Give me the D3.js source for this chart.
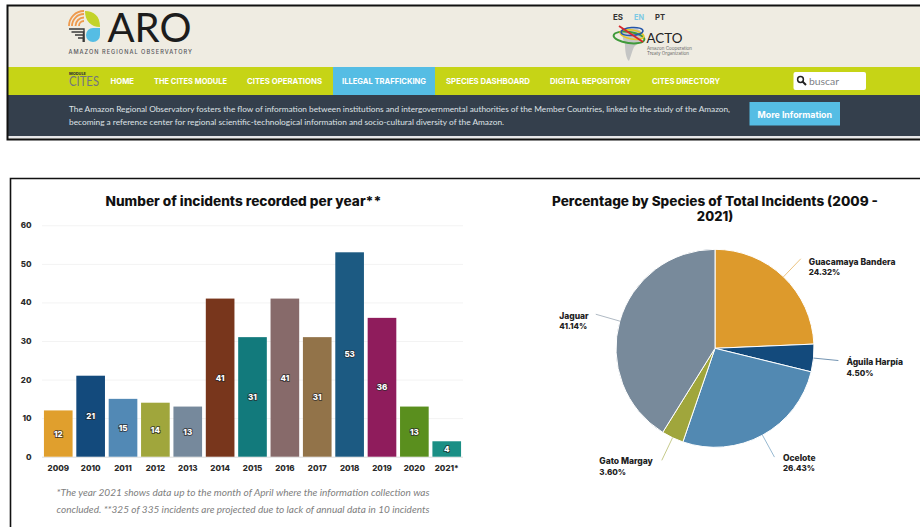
<!DOCTYPE html>
<html>
<head>
<meta charset="utf-8">
<title>Amazon Regional Observatory: illegal trafficking incidents</title>
<script src="https://cdn.jsdelivr.net/npm/d3@7/dist/d3.min.js"></script>
<style>
  html, body { margin: 0; padding: 0; background: #fff; }
  svg { display: block; }
  text { font-family: Inter, "Open Sans", sans-serif; }
</style>
</head>
<body>
<svg id="page" width="920" height="527"></svg>
<script>
// Incidents per year
const years = ["2009","2010","2011","2012","2013","2014","2015","2016","2017","2018","2019","2020","2021*"];
const incidents = [12,21,15,14,13,41,31,41,31,53,36,13,4];
const barColors = ["#e09f2d","#134a7c","#5289b5","#a0a63c","#76899c","#78361c","#127a7c","#876a6a","#927349","#1c5a82","#8f1c5c","#5a8f1e","#1b8f85"];
const yTicks = [0,10,20,30,40,50,60];

// Share of total incidents by species
const species = ["Guacamaya Bandera","Águila Harpía","Ocelote","Gato Margay","Jaguar"];
const shares = [24.32,4.50,26.43,3.60,41.14];
const pieColors = ["#dd9a2c","#134a7c","#5289b2","#a0a63c","#788a9b"];

// Site header content
const navItems = ["HOME","THE CITES MODULE","CITES OPERATIONS","ILLEGAL TRAFFICKING","SPECIES DASHBOARD","DIGITAL REPOSITORY","CITES DIRECTORY"];
const navSpans = [[110.5,134],[154,227],[247,322],[342,426],[446,530],[550,631],[652,720]];
const langs = ["ES","EN","PT"];
const introLines = [
  "The Amazon Regional Observatory fosters the flow of information between institutions and intergovernmental authorities of the Member Countries, linked to the study of the Amazon,",
  "becoming a reference center for regional scientific-technological information and socio-cultural diversity of the Amazon."
];
const notes = [
  "*The year 2021 shows data up to the month of April where the information collection was",
  "concluded. **325 of 335 incidents are projected due to lack of annual data in 10 incidents"
];

const svg = d3.select("#page");

// Text helper: fits a string into a known horizontal span
function label(g, str, x, y, o = {}) {
  const t = g.append("text").attr("x", x).attr("y", y).text(str)
    .attr("font-size", o.size || 10)
    .attr("font-weight", o.weight || 400)
    .attr("fill", o.fill || "#000")
    .attr("text-anchor", o.anchor || "start")
    .attr("dominant-baseline", "central");
  if (o.family) t.style("font-family", o.family);
  if (o.italic) t.attr("font-style", "italic");
  if (o.width) t.attr("textLength", o.width).attr("lengthAdjust", o.adjust || "spacingAndGlyphs");
  return t;
}

/* ---------- Header panel ---------- */
const head = svg.append("g");
head.append("rect").attr("x", 8).attr("y", 6).attr("width", 912).attr("height", 133).attr("fill", "#efece2");
head.append("rect").attr("x", 8).attr("y", 67).attr("width", 912).attr("height", 28).attr("fill", "#c6d416");
head.append("rect").attr("x", 8).attr("y", 95).attr("width", 912).attr("height", 41).attr("fill", "#343f4c");
head.append("rect").attr("x", 8).attr("y", 136).attr("width", 912).attr("height", 2.5).attr("fill", "#e8e8ea");
head.append("path").attr("d", "M920,5.5H7.5V139.5H920").attr("fill", "none").attr("stroke", "#111").attr("stroke-width", 2);

// ARO emblem
const emblem = head.append("g");
[5, 8.5, 12, 15].forEach(r => emblem.append("path")
  .attr("d", d3.arc()({innerRadius: r - 0.9, outerRadius: r + 0.9, startAngle: -Math.PI / 2, endAngle: 0}))
  .attr("transform", "translate(84,26)").attr("fill", "#ee9a4d"));
emblem.append("path").attr("d", "M85,11 C94,11 100,16 100,27 C91,27 85,21 85,11Z").attr("fill", "#c3d32a");
emblem.append("path").attr("d", "M100,28 V35 A7,7 0 1 1 86,35 A7,7 0 0 1 93,28Z").attr("fill", "#55bde4");
[[69,29,15],[71.5,32,12],[75,35,8.5],[78,38,5.5]].forEach(d => emblem.append("path")
  .attr("d", `M${d[0]},${d[1]}H${d[0] + d[2]}V${42}`)
  .attr("fill", "none").attr("stroke", "#3a3a3a").attr("stroke-width", 1.4));
label(head, "ARO", 107.5, 26.5, {size: 41, fill: "#1c1c1c", width: 84, family: "Lato, sans-serif"});
label(head, "AMAZON REGIONAL OBSERVATORY", 68.5, 51.5, {size: 5.6, weight: 500, fill: "#55555a", width: 123.5, adjust: "spacing"});

// Language switch and ACTO emblem
langs.forEach((l, i) => label(head, l, 613 + i * 21, 17.5, {size: 7.5, weight: 700, fill: l === "EN" ? "#7cc9e4" : "#333", width: 10}));
head.append("path").attr("d", "M626,30 C634,27 641,29 642,34 C643,40 637,44 634,47 C632,51 631,56 629,61 C626,59 625,50 625,44 C622,39 622,33 626,30Z").attr("fill", "#c4c5c4");
head.append("ellipse").attr("cx", 629).attr("cy", 37.5).attr("rx", 15.5).attr("ry", 5.5).attr("transform", "rotate(8 629 37.5)").attr("fill", "none").attr("stroke", "#3f9a3a").attr("stroke-width", 2);
head.append("ellipse").attr("cx", 632).attr("cy", 34.5).attr("rx", 12).attr("ry", 4.5).attr("transform", "rotate(10 632 34.5)").attr("fill", "none").attr("stroke", "#e6c72a").attr("stroke-width", 1.6);
head.append("ellipse").attr("cx", 632).attr("cy", 31.5).attr("rx", 11).attr("ry", 4).attr("transform", "rotate(-4 632 31.5)").attr("fill", "none").attr("stroke", "#2456a8").attr("stroke-width", 1.5);
head.append("path").attr("d", "M619,26 L643,42").attr("stroke", "#d8262a").attr("stroke-width", 1.8);
label(head, "ACTO", 646.5, 37.5, {size: 14, fill: "#222", width: 36, family: "Lato, sans-serif"});
label(head, "Amazon Cooperation", 647, 48, {size: 4.4, fill: "#666", width: 45});
label(head, "Treaty Organization", 647, 53.5, {size: 4.4, fill: "#666", width: 42});

// Navigation bar
head.append("rect").attr("x", 333).attr("y", 67).attr("width", 102).attr("height", 28).attr("fill", "#55bde4");
label(head, "MODULE", 69, 73, {size: 4, weight: 800, fill: "#333", width: 17});
label(head, "CITES", 69, 81.5, {size: 12.5, fill: "#73747f", width: 30, family: "Lato, sans-serif"});
navItems.forEach((n, i) => label(head, n, navSpans[i][0], 81, {
  size: 8, weight: 700, fill: "#fff", width: navSpans[i][1] - navSpans[i][0]
}));
head.append("rect").attr("x", 793.5).attr("y", 72).attr("width", 72.5).attr("height", 18).attr("rx", 2).attr("fill", "#fff");
head.append("circle").attr("cx", 800.5).attr("cy", 79.5).attr("r", 2.9).attr("fill", "none").attr("stroke", "#222").attr("stroke-width", 1.5);
head.append("path").attr("d", "M802.5,81.5L806,85").attr("stroke", "#222").attr("stroke-width", 2);
label(head, "buscar", 809, 81.5, {size: 9.5, fill: "#7d7f86", width: 30, family: "Lato, sans-serif"});

// Intro strip
label(head, introLines[0], 69, 109, {size: 8.3, fill: "#dfe2e6", width: 661, family: "Lato, sans-serif"});
label(head, introLines[1], 69, 122.3, {size: 8.3, fill: "#dfe2e6", width: 435, family: "Lato, sans-serif"});
head.append("rect").attr("x", 749.5).attr("y", 102).attr("width", 90.5).attr("height", 23.5).attr("fill", "#55bde4");
label(head, "More Information", 757.5, 114, {size: 9, weight: 700, fill: "#fff", width: 74.5});

/* ---------- Chart panel frame ---------- */
svg.append("path").attr("d", "M920,178.5H10.5V527").attr("fill", "none").attr("stroke", "#111").attr("stroke-width", 1.6);

/* ---------- Bar chart ---------- */
const x = d3.scaleBand().domain(years).range([42, 463]).paddingInner(0.115).paddingOuter(0.06);
const y = d3.scaleLinear().domain([0, 60]).range([456.7, 225.3]);

label(svg, "Number of incidents recorded per year**", 243.5, 200.5, {size: 13, weight: 800, fill: "#111", anchor: "middle", width: 276, family: "Inter, sans-serif"});

const yAxis = svg.append("g").attr("transform", "translate(42,0)")
  .call(d3.axisLeft(y).tickValues(yTicks).tickSize(-421).tickPadding(10));
yAxis.select(".domain").remove();
yAxis.selectAll(".tick line").attr("stroke", "#f3f3f3");
yAxis.selectAll(".tick text").attr("font-size", 8).attr("font-weight", 800).attr("fill", "#2a2a2a")
  .attr("dx", -0.5).style("font-family", "Inter, sans-serif");
yAxis.selectAll(".tick").filter(d => d === 0).select("line").attr("stroke", "#dcdcdc");

svg.selectAll("rect.bar").data(incidents).join("rect")
  .attr("class", "bar")
  .attr("x", (d, i) => x(years[i]))
  .attr("y", d => y(d))
  .attr("width", x.bandwidth())
  .attr("height", d => y(0) - y(d))
  .attr("fill", (d, i) => barColors[i]);

svg.selectAll("text.bar-value").data(incidents).join("text")
  .attr("class", "bar-value")
  .attr("x", (d, i) => x(years[i]) + x.bandwidth() / 2)
  .attr("y", d => (y(d) + y(0)) / 2)
  .attr("text-anchor", "middle").attr("dominant-baseline", "central")
  .attr("font-size", 8).attr("font-weight", 800).attr("fill", "#fff")
  .attr("stroke", "rgba(40,40,40,.7)").attr("stroke-width", 1.8).attr("paint-order", "stroke")
  .text(d => d);

const xAxis = svg.append("g").attr("transform", "translate(0,456.7)")
  .call(d3.axisBottom(x).tickSize(0).tickPadding(8.5));
xAxis.select(".domain").remove();
xAxis.selectAll(".tick text").attr("font-size", 8).attr("font-weight", 800).attr("fill", "#2a2a2a")
  .style("font-family", "Inter, sans-serif");

notes.forEach((n, i) => label(svg, n, 243, 492 + i * 16.6, {
  size: 10, italic: true, fill: "#808080", anchor: "middle", width: 373, family: "Lato, sans-serif"
}));

/* ---------- Pie chart ---------- */
const pieCx = 715, pieCy = 348.3, pieR = 99;
const pieG = svg.append("g").attr("transform", `translate(${pieCx},${pieCy})`);
const arcs = d3.pie().sort(null)(shares);
const arcGen = d3.arc().innerRadius(0).outerRadius(pieR);

label(svg, "Percentage by Species of Total Incidents (2009 -", 715, 201, {size: 13, weight: 800, fill: "#111", anchor: "middle", width: 326, family: "Inter, sans-serif"});
label(svg, "2021)", 715, 216, {size: 13, weight: 800, fill: "#111", anchor: "middle", family: "Inter, sans-serif"});

pieG.selectAll("path.slice").data(arcs).join("path")
  .attr("class", "slice")
  .attr("d", arcGen)
  .attr("fill", (d, i) => pieColors[i])
  .attr("stroke", "#fff").attr("stroke-width", 1);

// Leader lines run outward along each slice's bisector
const polar = (a, r) => [Math.sin(a) * r, -Math.cos(a) * r];
pieG.selectAll("line.leader").data(arcs).join("line")
  .attr("class", "leader")
  .attr("x1", d => polar((d.startAngle + d.endAngle) / 2, pieR)[0])
  .attr("y1", d => polar((d.startAngle + d.endAngle) / 2, pieR)[1])
  .attr("x2", d => polar((d.startAngle + d.endAngle) / 2, pieR + 25)[0])
  .attr("y2", d => polar((d.startAngle + d.endAngle) / 2, pieR + 25)[1])
  .attr("stroke", (d, i) => pieColors[i]).attr("stroke-width", 0.8).attr("stroke-opacity", 0.75);

// Offset of each label block from the end of its leader line
const labelOffsets = [[8, 3], [8, 1.5], [8.5, 0.5], [-62.5, 1], [-36.5, 1.5]];
arcs.forEach((d, i) => {
  const [ex, ey] = polar((d.startAngle + d.endAngle) / 2, pieR + 25);
  const lx = pieCx + ex + labelOffsets[i][0], ly = pieCy + ey + labelOffsets[i][1];
  label(svg, species[i], lx, ly, {size: 8.5, weight: 800, fill: "#222"});
  label(svg, shares[i].toFixed(2) + "%", lx, ly + 10.6, {size: 8, weight: 800, fill: "#222"});
});
</script>
</body>
</html>
